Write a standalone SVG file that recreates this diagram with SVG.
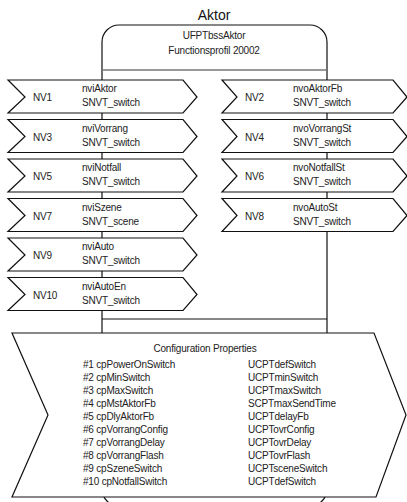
<svg xmlns="http://www.w3.org/2000/svg" width="407" height="502" viewBox="0 0 407 502">
<style>
text{font-family:"Liberation Sans",Arial,sans-serif;font-size:10px;letter-spacing:-0.2px;fill:#222}
.title{font-size:14px;letter-spacing:0;fill:#111}
.shape{fill:#fff;stroke:#111;stroke-width:1.2;stroke-linejoin:miter}
.div{stroke:#777;stroke-width:1.5}
.line{stroke:#111;stroke-width:1.2}
.mid{text-anchor:middle}
</style>
<defs>
<polygon id="navL" points="8,0 183,0 197,17 183,33 8,33 25,17"/>
<polygon id="navR" points="222,0 393,0 407,17 393,33 222,33 237,17"/>
</defs>
<text class="title mid" x="214" y="20">Aktor</text>
<g id="actor">
<rect class="shape" x="102" y="25" width="225" height="481" rx="17" ry="17"/>
<line class="div" x1="102" y1="70" x2="327" y2="70"/>
<line class="line" x1="102" y1="319" x2="327" y2="319"/>
<text class="mid" x="214" y="39">UFPTbssAktor</text>
<text class="mid" x="214" y="54">Functionsprofil 20002</text>
</g>
<g id="connectors"></g>
<g id="nv1" transform="translate(0,80)"><use href="#navL" class="shape"/><text x="33" y="21">NV1</text><text x="82" y="12">nviAktor</text><text x="82" y="26">SNVT_switch</text></g>
<g id="nv3" transform="translate(0,119.5)"><use href="#navL" class="shape"/><text x="33" y="21">NV3</text><text x="82" y="12">nviVorrang</text><text x="82" y="26">SNVT_switch</text></g>
<g id="nv5" transform="translate(0,159)"><use href="#navL" class="shape"/><text x="33" y="21">NV5</text><text x="82" y="12">nviNotfall</text><text x="82" y="26">SNVT_switch</text></g>
<g id="nv7" transform="translate(0,198.5)"><use href="#navL" class="shape"/><text x="33" y="21">NV7</text><text x="82" y="12">nviSzene</text><text x="82" y="26">SNVT_scene</text></g>
<g id="nv9" transform="translate(0,238)"><use href="#navL" class="shape"/><text x="33" y="21">NV9</text><text x="82" y="12">nviAuto</text><text x="82" y="26">SNVT_switch</text></g>
<g id="nv10" transform="translate(0,277.5)"><use href="#navL" class="shape"/><text x="33" y="21">NV10</text><text x="82" y="12">nviAutoEn</text><text x="82" y="26">SNVT_switch</text></g>
<g id="nv2" transform="translate(0,80)"><use href="#navR" class="shape"/><text x="245" y="21">NV2</text><text x="293" y="12">nvoAktorFb</text><text x="293" y="26">SNVT_switch</text></g>
<g id="nv4" transform="translate(0,119.5)"><use href="#navR" class="shape"/><text x="245" y="21">NV4</text><text x="293" y="12">nvoVorrangSt</text><text x="293" y="26">SNVT_switch</text></g>
<g id="nv6" transform="translate(0,159)"><use href="#navR" class="shape"/><text x="245" y="21">NV6</text><text x="293" y="12">nvoNotfallSt</text><text x="293" y="26">SNVT_switch</text></g>
<g id="nv8" transform="translate(0,198.5)"><use href="#navR" class="shape"/><text x="245" y="21">NV8</text><text x="293" y="12">nvoAutoSt</text><text x="293" y="26">SNVT_switch</text></g>
<g id="config">
<polygon class="shape" points="12,333 374,333 406,415 376,497 12,497 48,415"/>
<text class="mid" x="205" y="352">Configuration Properties</text>
<text x="83" y="368">#1 cpPowerOnSwitch</text><text x="248" y="368">UCPTdefSwitch</text>
<text x="83" y="381">#2 cpMinSwitch</text><text x="248" y="381">UCPTminSwitch</text>
<text x="83" y="394">#3 cpMaxSwitch</text><text x="248" y="394">UCPTmaxSwitch</text>
<text x="83" y="407">#4 cpMstAktorFb</text><text x="248" y="407">SCPTmaxSendTime</text>
<text x="83" y="420">#5 cpDlyAktorFb</text><text x="248" y="420">UCPTdelayFb</text>
<text x="83" y="433">#6 cpVorrangConfig</text><text x="248" y="433">UCPTovrConfig</text>
<text x="83" y="446">#7 cpVorrangDelay</text><text x="248" y="446">UCPTovrDelay</text>
<text x="83" y="459">#8 cpVorrangFlash</text><text x="248" y="459">UCPTovrFlash</text>
<text x="83" y="472">#9 cpSzeneSwitch</text><text x="248" y="472">UCPTsceneSwitch</text>
<text x="83" y="485">#10 cpNotfallSwitch</text><text x="248" y="485">UCPTdefSwitch</text>
</g>
</svg>
